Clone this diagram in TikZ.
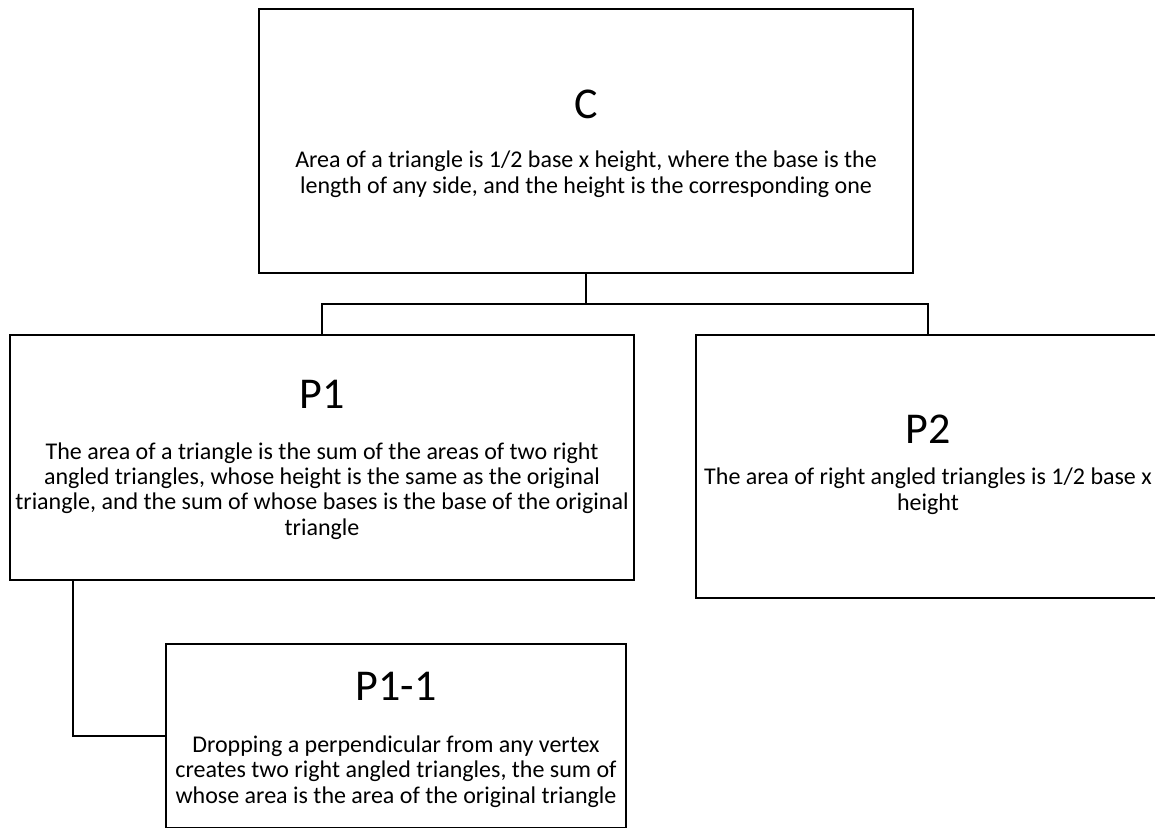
\documentclass[tikz,border=0pt]{standalone}
\usepackage{fontspec}
\setmainfont{Carlito}
\usepackage{tikz}
\usetikzlibrary{positioning}

\begin{document}
\begin{tikzpicture}[x=0.5pt,y=-0.5pt,line width=1.1pt,draw=black]
    \tikzstyle{claim}=[rectangle,draw,inner sep=0pt]
    \tikzstyle{title}=[inner sep=0pt,anchor=base,font=\fontsize{22}{26}\selectfont]
    \tikzstyle{body}=[inner sep=0pt,anchor=base,align=center,font=\fontsize{12}{12.6}\selectfont]

    \useasboundingbox (0,0) rectangle (1155,827);
    \clip (0,0) rectangle (1155,827);

    % Draw the boxes
    \node[claim, minimum width=327pt, minimum height=132pt] (C) at (586,141) {};
    \node[claim, minimum width=312pt, minimum height=122.5pt] (P1) at (322,457.5) {};
    \node[claim, minimum width=232pt, minimum height=131.5pt] (P2) at (928,466.5) {};
    \node[claim, minimum width=230pt, minimum height=92pt] (P11) at (396,736) {};

    % Titles and texts (base = last line)
    \node[title] (C-t) at (586,118) {C};
    \node[body] (C-b) at (586,193) {Area of a triangle is 1/2 base x height, where the base is the\\
        length of any side, and the height is the corresponding one};
    \node[title] (P1-t) at (322,408) {P1};
    \node[body] (P1-b) at (322,535) {The area of a triangle is the sum of the areas of two right\\
        angled triangles, whose height is the same as the original\\
        triangle, and the sum of whose bases is the base of the original\\
        triangle};
    \node[title] (P2-t) at (928,443) {P2};
    \node[body] (P2-b) at (928,510) {The area of right angled triangles is 1/2 base x\\
        height};
    \node[title] (P11-t) at (396,700) {P1-1};
    \node[body] (P11-b) at (396,803) {Dropping a perpendicular from any vertex\\
        creates two right angled triangles, the sum of\\
        whose area is the area of the original triangle};

    % Connect the boxes
    \coordinate (bus) at (586,304);
    \coordinate (drop) at (73,580);
    \draw (C.south) -- (bus) -| (P1.north);
    \draw (bus) -| (P2.north);
    \draw (drop) |- (P11.west);
\end{tikzpicture}
\end{document}
